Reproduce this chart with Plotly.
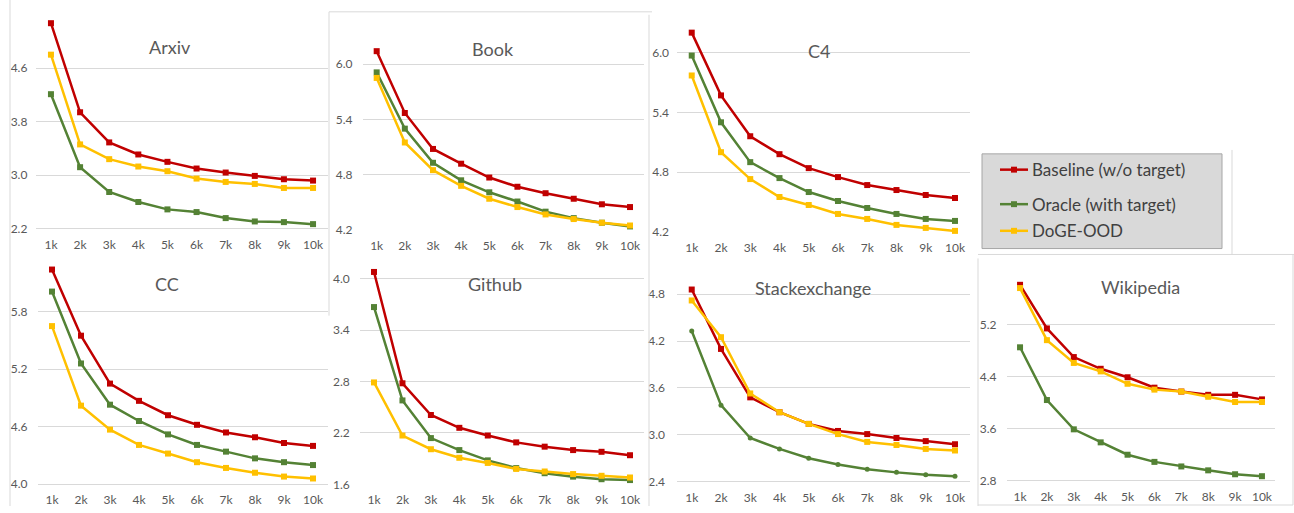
import plotly.graph_objects as go

# ---------------- data ----------------
steps = ["1k", "2k", "3k", "4k", "5k", "6k", "7k", "8k", "9k", "10k"]
datasets = ["Arxiv", "Book", "C4", "CC", "Github", "Stackexchange", "Wikipedia"]
series_names = ["Baseline (w/o target)", "Oracle (with target)", "DoGE-OOD"]

arxiv_baseline = [5.27, 3.94, 3.49, 3.31, 3.20, 3.10, 3.04, 2.99, 2.94, 2.92]
arxiv_oracle = [4.21, 3.12, 2.75, 2.60, 2.49, 2.45, 2.36, 2.31, 2.30, 2.27]
arxiv_doge = [4.80, 3.46, 3.24, 3.13, 3.06, 2.95, 2.90, 2.87, 2.81, 2.81]

book_baseline = [6.14, 5.47, 5.08, 4.92, 4.77, 4.67, 4.60, 4.54, 4.48, 4.45]
book_oracle = [5.91, 5.30, 4.93, 4.74, 4.61, 4.51, 4.40, 4.33, 4.28, 4.24]
book_doge = [5.85, 5.15, 4.85, 4.68, 4.54, 4.45, 4.37, 4.32, 4.28, 4.25]

c4_baseline = [6.20, 5.57, 5.16, 4.98, 4.84, 4.75, 4.67, 4.62, 4.57, 4.54]
c4_oracle = [5.97, 5.30, 4.90, 4.74, 4.60, 4.51, 4.44, 4.38, 4.33, 4.31]
c4_doge = [5.77, 5.00, 4.73, 4.55, 4.47, 4.38, 4.33, 4.27, 4.24, 4.21]

cc_baseline = [6.24, 5.55, 5.05, 4.87, 4.72, 4.62, 4.54, 4.49, 4.43, 4.40]
cc_oracle = [6.01, 5.26, 4.83, 4.66, 4.52, 4.41, 4.34, 4.27, 4.23, 4.20]
cc_doge = [5.65, 4.82, 4.57, 4.41, 4.32, 4.23, 4.17, 4.12, 4.08, 4.06]

github_baseline = [4.08, 2.78, 2.41, 2.26, 2.17, 2.09, 2.04, 2.00, 1.98, 1.94]
github_oracle = [3.67, 2.58, 2.14, 2.00, 1.88, 1.79, 1.73, 1.69, 1.66, 1.65]
github_doge = [2.79, 2.17, 2.01, 1.91, 1.85, 1.78, 1.75, 1.72, 1.70, 1.68]

stack_baseline = [4.86, 4.10, 3.48, 3.29, 3.14, 3.05, 3.01, 2.96, 2.92, 2.88]
stack_oracle = [4.33, 3.38, 2.96, 2.82, 2.70, 2.62, 2.56, 2.52, 2.49, 2.47]
stack_doge = [4.72, 4.25, 3.53, 3.29, 3.14, 3.01, 2.91, 2.87, 2.82, 2.80]

wiki_baseline = [5.81, 5.14, 4.70, 4.52, 4.39, 4.23, 4.17, 4.12, 4.12, 4.05]
wiki_oracle = [4.85, 4.04, 3.59, 3.39, 3.20, 3.09, 3.02, 2.96, 2.90, 2.87]
wiki_doge = [5.76, 4.96, 4.61, 4.48, 4.29, 4.20, 4.17, 4.09, 4.01, 4.01]

arxiv_ticks = [2.2, 3.0, 3.8, 4.6]
book_ticks = [4.2, 4.8, 5.4, 6.0]
c4_ticks = [4.2, 4.8, 5.4, 6.0]
cc_ticks = [4.0, 4.6, 5.2, 5.8]
github_ticks = [1.6, 2.2, 2.8, 3.4, 4.0]
stack_ticks = [2.4, 3.0, 3.6, 4.2, 4.8]
wiki_ticks = [2.8, 3.6, 4.4, 5.2]

values = {
    "Arxiv": (arxiv_baseline, arxiv_oracle, arxiv_doge),
    "Book": (book_baseline, book_oracle, book_doge),
    "C4": (c4_baseline, c4_oracle, c4_doge),
    "CC": (cc_baseline, cc_oracle, cc_doge),
    "Github": (github_baseline, github_oracle, github_doge),
    "Stackexchange": (stack_baseline, stack_oracle, stack_doge),
    "Wikipedia": (wiki_baseline, wiki_oracle, wiki_doge),
}
ticks = {
    "Arxiv": arxiv_ticks, "Book": book_ticks, "C4": c4_ticks, "CC": cc_ticks,
    "Github": github_ticks, "Stackexchange": stack_ticks, "Wikipedia": wiki_ticks,
}

# ---------------- layout constants (pixels) ----------------
W, H = 1294, 513
FONT = "Lato"
TXT = "#595959"
GRID = "#d9d9d9"
COLORS = ["#C00000", "#548235", "#FFC000"]

# name: (x_left, x_right, y_top, y_bottom, y_lo, y_hi, y_standoff, title_x, title_y)
panels = {
    "Arxiv": (36.4, 327.6, 14, 233, 2.185, 5.41, 8, 170, 48),
    "Book": (362.6, 644.1, 14, 234, 4.1925, 6.545, 9, 493, 50),
    "C4": (677.1, 969.6, 14, 236, 4.191, 6.389, 7, 819, 52),
    "CC": (37.5, 327.5, 262, 492, 3.989, 6.356, 9, 167, 288),
    "Github": (359.8, 644.2, 262, 492, 1.589, 4.238, 9, 495, 288),
    "Stackexchange": (677.1, 969.6, 262, 490, 2.380, 5.258, 11, 813, 292),
    "Wikipedia": (1006.6, 1275.4, 270, 489, 2.776, 6.094, 9, 1140, 291),
}

fig = go.Figure()
layout = dict(
    width=W, height=H, margin=dict(l=0, r=0, t=0, b=0),
    paper_bgcolor="white", plot_bgcolor="white", showlegend=False,
    font=dict(family=FONT, color=TXT),
)
annotations = []
shapes = []

draw_order = [1, 0, 2]
for i, name in enumerate(datasets):
    xl, xr, yt, yb, lo, hi, so, tx, ty = panels[name]
    sfx = "" if i == 0 else str(i + 1)
    xa, ya = "x" + sfx, "y" + sfx
    for s in draw_order:
        sym = "circle" if (name == "Stackexchange" and s == 1) else "square"
        fig.add_trace(go.Scatter(
            x=steps, y=values[name][s], mode="lines+markers", name=series_names[s],
            line=dict(color=COLORS[s], width=2.5),
            marker=dict(symbol=sym, size=6 if sym == "square" else 5, color=COLORS[s]),
            xaxis=xa, yaxis=ya, cliponaxis=False,
        ))
    layout["xaxis" + sfx] = dict(
        domain=[xl / W, xr / W], anchor=ya, type="category",
        categoryorder="array", categoryarray=steps, range=[-0.5, 9.5],
        showgrid=False, zeroline=False, showline=False, ticks="",
        tickfont=dict(family=FONT, size=12, color=TXT), ticklabelstandoff=6,
    )
    layout["yaxis" + sfx] = dict(
        domain=[1 - yb / H, 1 - yt / H], anchor=xa, range=[lo, hi],
        tickmode="array", tickvals=ticks[name],
        ticktext=["%.1f" % v for v in ticks[name]],
        showgrid=True, gridcolor=GRID, gridwidth=1, zeroline=False, showline=False,
        ticks="", tickfont=dict(family=FONT, size=12, color=TXT), ticklabelstandoff=so,
    )
    annotations.append(dict(
        text=name, x=tx / W, y=1 - ty / H, xref="paper", yref="paper",
        xanchor="center", yanchor="middle", showarrow=False,
        font=dict(family=FONT, size=18, color=TXT),
    ))

# panel borders (light grey frames of the original composite)
def line(x0, y0, x1, y1, color="#d9d9d9"):
    shapes.append(dict(type="line", xref="paper", yref="paper",
                       x0=x0 / W, y0=1 - y0 / H, x1=x1 / W, y1=1 - y1 / H,
                       line=dict(color=color, width=1)))

line(10, 0, 10, 513)
line(329, 12, 329, 320)
line(329, 12, 652, 12)
line(649, 15, 649, 513)
line(978, 262, 978, 513)
line(978, 258, 1294, 258)
line(1293, 258, 1293, 512)
line(978, 512, 1293, 512)
line(1232, 152, 1232, 258)

# legend box (manual)
shapes.append(dict(type="rect", xref="paper", yref="paper",
                   x0=982 / W, x1=1222 / W, y0=1 - 252 / H, y1=1 - 156 / H,
                   fillcolor="#d9d9d9", line=dict(color="#a6a6a6", width=1)))
leg_y = [172, 207, 234]
for s in range(3):
    yy = 1 - leg_y[s] / H
    shapes.append(dict(type="line", xref="paper", yref="paper",
                       x0=1000 / W, x1=1028 / W, y0=yy, y1=yy,
                       line=dict(color=COLORS[s], width=2.5)))
    shapes.append(dict(type="rect", xref="paper", yref="paper",
                       x0=1011 / W, x1=1017 / W, y0=yy - 3 / H, y1=yy + 3 / H,
                       fillcolor=COLORS[s], line=dict(width=0)))
    annotations.append(dict(
        text=series_names[s], x=1030 / W, y=yy, xref="paper", yref="paper",
        xanchor="left", yanchor="middle", showarrow=False,
        font=dict(family=FONT, size=17, color="#404040"),
    ))

layout["annotations"] = annotations
layout["shapes"] = shapes
fig.update_layout(**layout)
fig.write_html("out.html")
